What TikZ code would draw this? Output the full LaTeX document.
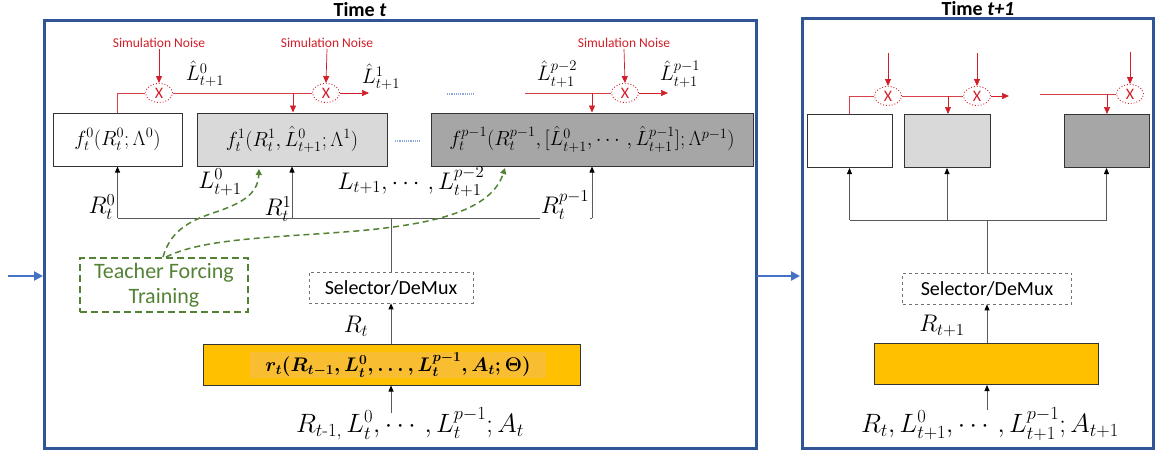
\RequirePackage{fix-cm}
\documentclass[tikz,border=0pt]{standalone}
\usepackage{fontspec}
\usepackage{amsmath}
\usetikzlibrary{arrows.meta,shapes.geometric}
\newfontfamily\calib{Carlito}
\definecolor{frameblue}{HTML}{2F5597}
\definecolor{arrowblue}{HTML}{4472C4}
\definecolor{noisered}{RGB}{210,30,40}
\definecolor{tfgreen}{HTML}{548235}
\definecolor{lgray}{HTML}{D9D9D9}
\definecolor{dgray}{HTML}{A6A6A6}
\definecolor{orangefill}{HTML}{FFC000}
\definecolor{orangehl}{HTML}{F8BD30}
\definecolor{dotblue}{HTML}{8FAADC}
\tikzset{
  frame/.style={draw=frameblue, line width=3pt},
  ttl/.style={font=\calib\bfseries\fontsize{20}{22}\selectfont},
  bigarr/.style={draw=arrowblue, line width=2.5pt, -{Triangle[length=9pt,width=9pt]}},
  fnbox/.style={draw=black!80, line width=1pt, minimum width=#1, minimum height=53, inner sep=0pt, font=\fontsize{20.5}{22}\selectfont},
  mult/.style={ellipse, draw=noisered, dotted, line width=0.9pt, minimum width=27, minimum height=19, inner sep=0pt, text=noisered, font=\calib\fontsize{16}{16}\selectfont},
  redline/.style={draw=noisered!85, line width=0.7pt},
  redarr/.style={draw=noisered, line width=0.7pt, -{Triangle[length=7pt,width=6pt]}},
  noise/.style={text=noisered, font=\calib\fontsize{13.5}{15}\selectfont, inner sep=1pt},
  blk/.style={draw=black!65, line width=0.8pt},
  blkarr/.style={draw=black!65, line width=0.8pt, -{Triangle[length=6pt,width=5pt,fill=black,color=black]}},
  hlab/.style={font=\fontsize{21}{23}\selectfont, inner sep=1pt},
  mlab/.style={font=\fontsize{24}{26}\selectfont, inner sep=1pt},
  wlab/.style={font=\fontsize{24}{26}\selectfont, inner sep=1pt, fill=white},
  blab/.style={font=\fontsize{26.5}{28}\selectfont, inner sep=1pt},
  selbox/.style={draw=black!55, dashed, line width=0.7pt, minimum width=#1, minimum height=31, inner sep=0pt, font=\calib\fontsize{20}{22}\selectfont},
  orbox/.style={draw=black!80, line width=1pt, fill=orangefill, minimum width=#1, minimum height=41, inner sep=0pt},
  tfbox/.style={draw=tfgreen, dash pattern=on 7pt off 4pt, line width=1.3pt, minimum width=168, minimum height=54, inner sep=0pt, align=center, text=tfgreen, font=\calib\fontsize{22}{25}\selectfont},
  greenarr/.style={draw=tfgreen, dash pattern=on 6pt off 4pt, line width=1.5pt, -{Triangle[length=6pt,width=6pt]}},
  dotline/.style={draw=dotblue, densely dotted, line width=1.2pt}
}
\begin{document}
\begin{tikzpicture}[x=1pt,y=-1pt]
\useasboundingbox (0,0) rectangle (1156,452);
% frames
\draw[frame] (44,21) rectangle (756,448);
\draw[frame] (802,19) rectangle (1153,448);
\node[ttl] (t1) at (360,10) {Time \textit{t}};
\node[ttl] (t2) at (978,9) {Time \textit{t+1}};
\coordinate (inL) at (8,276);
\coordinate (frL) at (43,276);
\coordinate (outL) at (757,276);
\coordinate (frR) at (800,276);
\draw[bigarr] (inL) -- (frL);
\draw[bigarr] (outL) -- (frR);

% ===== left frame boxes
\node[fnbox=129] (f0) at (117.5,139.5) {$f_t^0(R_t^0;\Lambda^0)$};
\node[fnbox=190, fill=lgray] (f1) at (292,139.5) {$f_t^1(R_t^1,\hat{L}_{t+1}^0;\Lambda^1)$};
\node[fnbox=322, fill=dgray] (fp) at (592,139.5) {$f_t^{p-1}(R_t^{p-1},[\hat{L}_{t+1}^0,\cdots,\hat{L}_{t+1}^{p-1}];\Lambda^{p-1})$};

% dotted separators
\coordinate (d1a) at (395,141); \coordinate (d1b) at (421,141);
\coordinate (d2a) at (447,94); \coordinate (d2b) at (474,94);
\draw[dotline] (d1a) -- (d1b);
\draw[dotline] (d2a) -- (d2b);

% red noise network left
\node[mult] (e0) at (159,93) {X};
\node[mult] (e1) at (326,93) {X};
\node[mult] (e2) at (625,93) {X};
\node[noise] (n0) at (159,43) {Simulation Noise};
\node[noise] (n1) at (327,43) {Simulation Noise};
\node[noise] (n2) at (624,43) {Simulation Noise};
\draw[redarr] (n0.south) -- (e0.north);
\draw[redarr] (n1.south) -- (e1.north);
\draw[redarr] (n2.south) -- (e2.north);
\draw[redline] (f0.north) |- (e0.west);
\draw[redline] (e0.east) -- (e1.west);
\coordinate (b1) at (293,93);
\draw[redarr] (b1) -- (b1 |- f1.north);
\coordinate (o1) at (369,93);
\draw[redarr] (e1.east) -- (o1);
\coordinate (i2) at (525,93);
\draw[redline] (i2) -- (e2.west);
\coordinate (b2) at (592,93);
\draw[redarr] (b2) -- (b2 |- fp.north);
\coordinate (o2) at (668,93);
\draw[redarr] (e2.east) -- (o2);
\node[hlab] (lh0) at (205,74) {$\hat{L}_{t+1}^0$};
\node[hlab] (lh1) at (381,77) {$\hat{L}_{t+1}^1$};
\node[hlab] (lh2) at (557,74) {$\hat{L}_{t+1}^{p-2}$};
\node[hlab] (lh3) at (680,74) {$\hat{L}_{t+1}^{p-1}$};

% black bus left
\coordinate (bus0) at (117.5,218);
\coordinate (bus1) at (292,218);
\coordinate (bus2) at (592,218);
\coordinate (busm) at (391,218);
\draw[blk] (bus0) -- (bus2);
\node[mlab] (r0) at (102,207) {$R_t^0$};
\node[mlab] (r1) at (278,209) {$R_t^1$};
\node[wlab] (r2) at (565,205) {$R_t^{p-1}$};
\draw[blkarr] (bus0) -- (f0.south);
\draw[blkarr] (bus1) -- (f1.south);
\draw[blkarr] (bus2) -- (fp.south);
\node[mlab] (l0) at (220,182) {$L_{t+1}^0$};
\node[mlab] (ldots) at (411,182) {$L_{t+1},\cdots,L_{t+1}^{p-2}$};

\node[selbox=164] (sel) at (391,287.5) {Selector/DeMux};
\draw[blk] (busm) -- (sel.north);
\node[orbox=377] (rt) at (391.5,364.5) {};
\node[fill=orangehl, inner sep=0pt, minimum width=296, minimum height=26, font=\fontsize{19.7}{21}\selectfont\boldmath] (rtxt) at (398,365) {$r_t(R_{t-1},L_t^0,\ldots,L_t^{p-1},A_t;\Theta)$};
\draw[blkarr] (rt.north -| sel.south) -- (sel.south);
\node[mlab] (rtl) at (356,326) {$R_t$};
\coordinate (inp) at (391,413);
\draw[blkarr] (inp) -- (inp |- rt.south);
\node[blab] (inl) at (410,424) {$R_{t\text{-}1,}\,L_t^0,\cdots,L_t^{p-1};A_t$};

% teacher forcing
\node[tfbox] (tf) at (164,285) {Teacher Forcing\\Training};
\draw[greenarr] (163,257) .. controls (170,233) and (186,222) .. (213,213) .. controls (240,204) and (258,195) .. (259,169);
\draw[greenarr] (166,257) .. controls (200,240) and (260,238) .. (330,233) .. controls (420,227) and (490,215) .. (505,168);

% ===== right frame
\node[fnbox=85] (g0) at (849.5,141) {};
\node[fnbox=86, fill=lgray] (g1) at (947,141) {};
\node[fnbox=85, fill=dgray] (g2) at (1106.5,141) {};
\node[mult] (e3) at (888,96) {X};
\node[mult] (e4) at (977,96) {X};
\node[mult] (e5) at (1130,94) {X};
\coordinate (s3) at (888,53);
\coordinate (s4) at (977,53);
\coordinate (s5) at (1130,52);
\draw[redarr] (s3) -- (e3.north);
\draw[redarr] (s4) -- (e4.north);
\draw[redarr] (s5) -- (e5.north);
\draw[redline] (g0.north) |- (e3.west);
\draw[redline] (e3.east) -- (e4.west);
\coordinate (b3) at (948,96);
\draw[redarr] (b3) -- (b3 |- g1.north);
\coordinate (o3) at (1009,96);
\draw[redarr] (e4.east) -- (o3);
\coordinate (i5) at (1040,94);
\draw[redline] (i5) -- (e5.west);
\coordinate (b5) at (1107,94);
\draw[redarr] (b5) -- (b5 |- g2.north);

\coordinate (cbus0) at (849.5,220);
\coordinate (cbus1) at (947,220);
\coordinate (cbus2) at (1106.5,220);
\coordinate (cbusm) at (987,220);
\draw[blk] (cbus0) -- (cbus2);
\draw[blkarr] (cbus0) -- (g0.south);
\draw[blkarr] (cbus1) -- (g1.south);
\draw[blkarr] (cbus2) -- (g2.south);
\node[selbox=169] (sel2) at (987,288.5) {Selector/DeMux};
\draw[blk] (cbusm) -- (sel2.north);
\node[orbox=224] (rt2) at (986,364) {};
\draw[blkarr] (rt2.north -| sel2.south) -- (sel2.south);
\node[mlab] (rtl2) at (942,326) {$R_{t+1}$};
\coordinate (inp2) at (987,410);
\draw[blkarr] (inp2) -- (inp2 |- rt2.south);
\node[blab] (inl2) at (990,424) {$R_t,L_{t+1}^0,\cdots,L_{t+1}^{p-1};A_{t+1}$};
\end{tikzpicture}
\end{document}
